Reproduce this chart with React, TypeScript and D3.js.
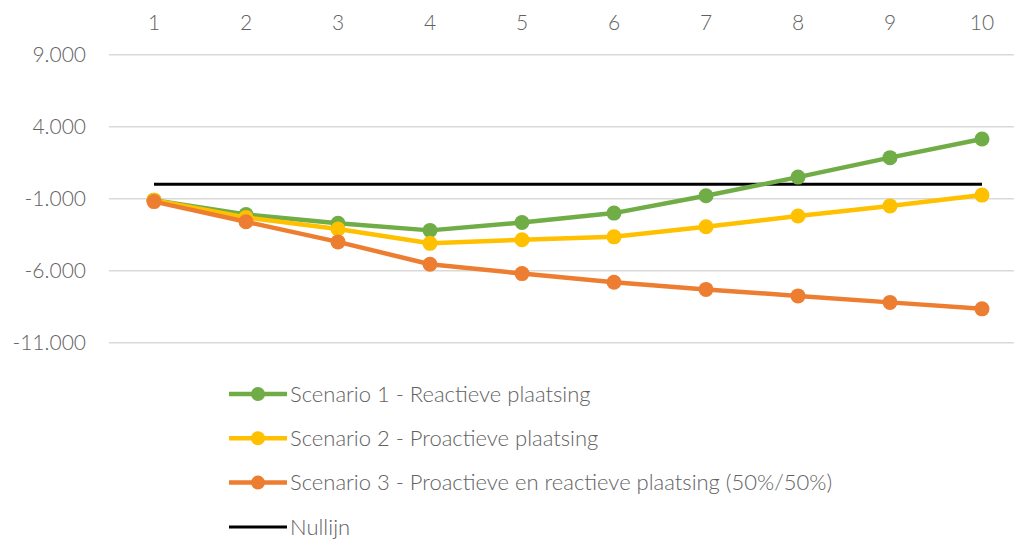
import React from 'react';
import * as d3 from 'd3';

const years = ['1', '2', '3', '4', '5', '6', '7', '8', '9', '10'];
const scenario1 = [-1100, -2100, -2700, -3200, -2650, -2000, -800, 500, 1850, 3150];
const scenario2 = [-1100, -2300, -3100, -4100, -3850, -3650, -2950, -2200, -1500, -750];
const scenario3 = [-1200, -2600, -4000, -5550, -6200, -6800, -7300, -7750, -8200, -8650];
const nullijn = [0, 0, 0, 0, 0, 0, 0, 0, 0, 0];
const yTicks = [9000, 4000, -1000, -6000, -11000];

const series = [
  { name: 'Scenario 1 - Reactieve plaatsing', values: scenario1, color: '#70AD47' },
  { name: 'Scenario 2 - Proactieve plaatsing', values: scenario2, color: '#FFC000' },
  { name: 'Scenario 3 - Proactieve en reactieve plaatsing (50%/50%)', values: scenario3, color: '#ED7D31' },
];

const W = 1014;
const H = 541;
const FONT = 'Lato, "Open Sans", sans-serif';
const TEXT = '#626262';

const nl = d3.formatLocale({ decimal: ',', thousands: '.', grouping: [3], currency: ['€', ''], minus: '-' });
const fmt = nl.format(',.0f');

export default function App() {
  const x = d3.scalePoint<string>().domain(years).range([154, 982]);
  const y = d3.scaleLinear().domain([-11000, 9000]).range([342.7, 54.7]);

  const line = d3.line<number>()
    .x((_, i) => x(years[i])!)
    .y(d => y(d));

  const legendRows = [
    ...series.map(s => ({ name: s.name, color: s.color, marker: true, width: 4.5 })),
    { name: 'Nullijn', color: '#000000', marker: false, width: 3 },
  ];

  return (
    <svg width={W} height={H} style={{ position: 'absolute', left: 0, top: 0, background: '#fff' }}>
      {/* grid + y labels */}
      {yTicks.map(t => (
        <g key={t}>
          <line x1={109} x2={W} y1={y(t)} y2={y(t)} stroke="#D9D9D9" strokeWidth={1.5} />
          <text x={86} y={y(t)} dy="0.35em" textAnchor="end" fontFamily={FONT} fontWeight={300} fontSize={21} fill={TEXT}>
            {fmt(t)}
          </text>
        </g>
      ))}
      {years.map(c => (
        <text key={c} x={x(c)} y={23} dy="0.35em" textAnchor="middle" fontFamily={FONT} fontWeight={300} fontSize={21} fill={TEXT}>
          {c}
        </text>
      ))}

      {/* zero line */}
      <path d={line(nullijn)!} fill="none" stroke="#000" strokeWidth={3} />

      {series.map(s => (
        <g key={s.name}>
          <path d={line(s.values)!} fill="none" stroke={s.color} strokeWidth={4.5} strokeLinejoin="round" />
          {s.values.map((v, i) => (
            <circle key={i} cx={x(years[i])} cy={y(v)} r={7.5} fill={s.color} />
          ))}
        </g>
      ))}

      {/* legend */}
      {legendRows.map((r, i) => {
        const ly = 394 + i * 44.3;
        return (
          <g key={r.name}>
            <line x1={229} x2={287} y1={ly} y2={ly} stroke={r.color} strokeWidth={r.width} />
            {r.marker && <circle cx={258} cy={ly} r={7} fill={r.color} />}
            <text x={290} y={ly} dy="0.35em" fontFamily={FONT} fontWeight={300} fontSize={22} fill={TEXT}>
              {r.name}
            </text>
          </g>
        );
      })}
    </svg>
  );
}
